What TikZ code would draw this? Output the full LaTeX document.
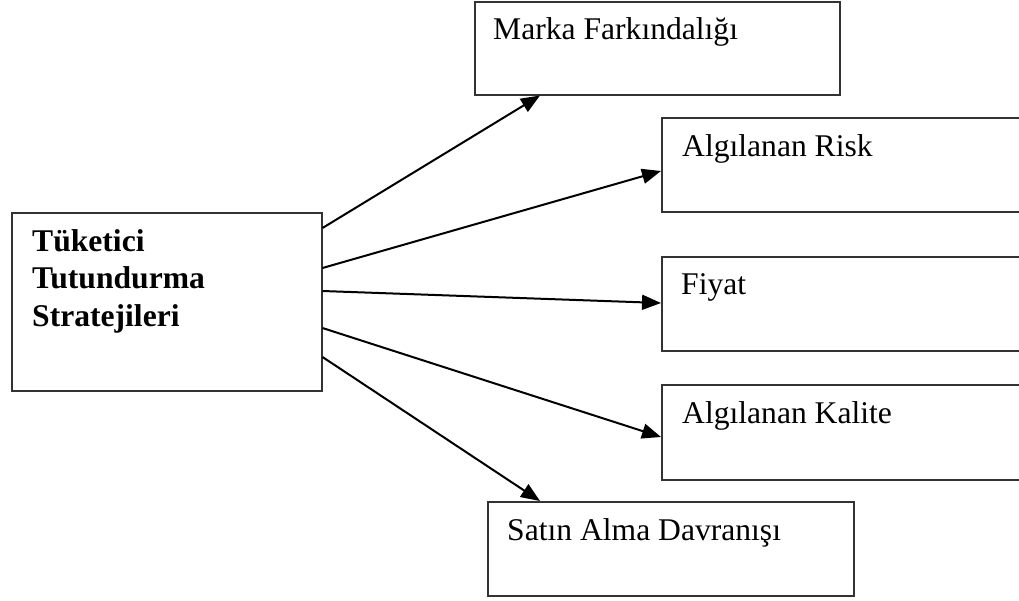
\documentclass[tikz,border=0pt]{standalone}
\usepackage{fontspec}
\setmainfont{Liberation Serif}
\usetikzlibrary{arrows.meta}
\begin{document}
\begin{tikzpicture}[x=1pt,y=-1pt,
  box/.style={draw=black!80,line width=1.5pt,rectangle,inner sep=0pt,anchor=north west},
  lbl/.style={inner sep=0pt,anchor=base west,font=\fontsize{31.6}{37.5}\selectfont},
  arr/.style={draw=black,line width=2pt,-{Triangle[length=19pt,width=15pt]}}]
\useasboundingbox[fill=white] (0,0) rectangle (1019,600);
% boxes
\node[box,minimum width=310pt,minimum height=178pt] (s) at (11,212) {};
\node[box,minimum width=365pt,minimum height=93pt] (m) at (474,1) {};
\node[box,minimum width=380pt,minimum height=94pt] (r) at (661,117) {};
\node[box,minimum width=380pt,minimum height=94pt] (f) at (661,256) {};
\node[box,minimum width=380pt,minimum height=95pt] (k) at (661,384) {};
\node[box,minimum width=366pt,minimum height=94pt] (sa) at (487,501) {};
% labels
\node[lbl,font=\fontsize{31.6}{37.5}\selectfont\bfseries,align=left,anchor=north west] (st) at ([xshift=21pt,yshift=-17pt]s.north west) {Tüketici\\Tutundurma\\Stratejileri};
\node[lbl] (mt) at ([xshift=19pt,yshift=-38pt]m.north west) {Marka Farkındalığı};
\node[lbl] (rt) at ([xshift=21pt,yshift=-39pt]r.north west) {Algılanan Risk};
\node[lbl] (ft) at ([xshift=20pt,yshift=-38pt]f.north west) {Fiyat};
\node[lbl] (kt) at ([xshift=21pt,yshift=-39pt]k.north west) {Algılanan Kalite};
\node[lbl] (sat) at ([xshift=20pt,yshift=-39pt]sa.north west) {Satın Alma Davranışı};
% connectors
\draw[arr] ([yshift=-16pt]s.north east) -- ([xshift=66pt]m.south west);
\draw[arr] ([yshift=-56pt]s.north east) -- ([yshift=-54pt]r.north west);
\draw[arr] ([yshift=-79pt]s.north east) -- ([yshift=-47pt]f.north west);
\draw[arr] ([yshift=-116pt]s.north east) -- ([yshift=-53pt]k.north west);
\draw[arr] ([yshift=-145pt]s.north east) -- ([xshift=53pt]sa.north west);
\end{tikzpicture}
\end{document}
